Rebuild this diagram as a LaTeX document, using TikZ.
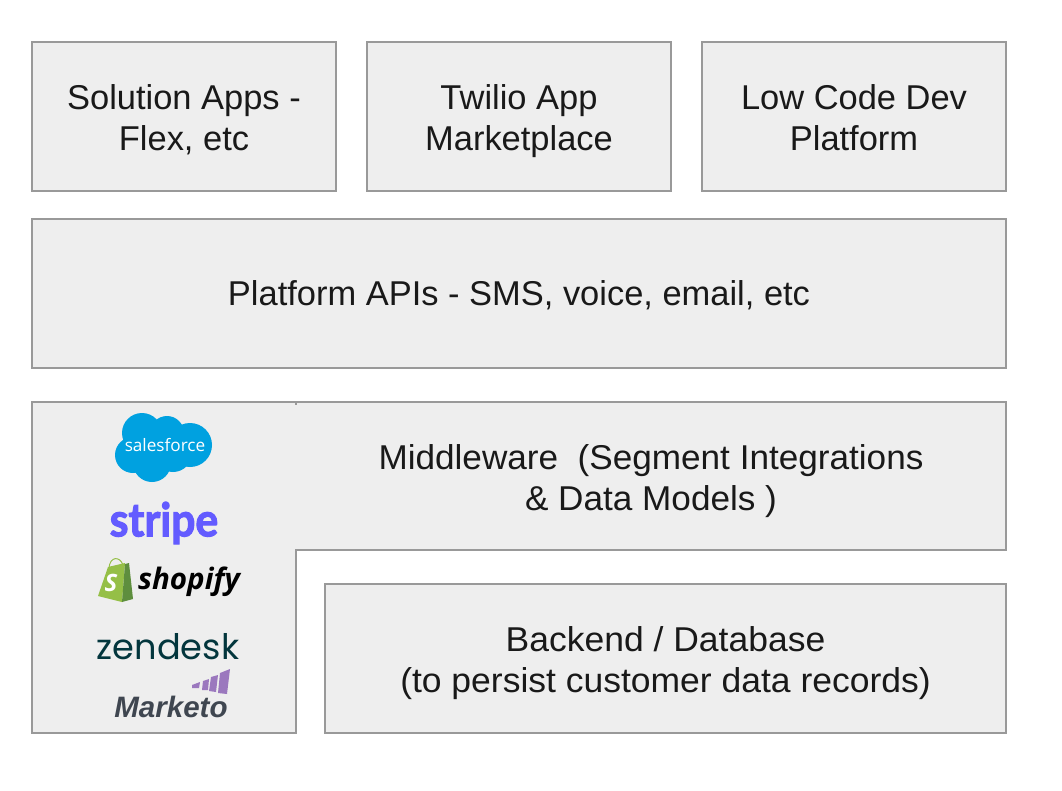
\documentclass[tikz,border=0pt]{standalone}
\usepackage{fontspec}
\setmainfont{Liberation Sans}
\newfontfamily\stripefont{Lato}[BoldFeatures={FakeBold=2.5}]
\newfontfamily\shopfont{Open Sans}
\newfontfamily\zenfont{Poppins}
\usepackage{xcolor}
\usetikzlibrary{positioning}
\definecolor{panelfill}{HTML}{EEEEEE}
\definecolor{panelline}{HTML}{999999}
\definecolor{sfblue}{HTML}{00A1E0}
\definecolor{stripeblue}{HTML}{635BFF}
\definecolor{shopgreen}{HTML}{95BF47}
\definecolor{shopdark}{HTML}{5E8E3E}
\definecolor{zengreen}{HTML}{03363D}
\definecolor{mktpurple}{HTML}{9B78BE}
\definecolor{mktdark}{HTML}{3F4650}
\tikzset{
    panel/.style={draw=panelline, fill=panelfill, line width=1.4pt},
    paneltext/.style={align=center, text=black!90, font=\fontsize{24.5}{29.2}\selectfont,
        yshift=-5pt, execute at begin node=\strut, execute at end node=\strut},
}

\begin{document}
\begin{tikzpicture}[x=0.025cm, y=-0.025cm]
    \useasboundingbox (0,0) rectangle (1062,790);

    % Top row
    \draw[panel] (32,42) rectangle (336,191) node[midway, paneltext] (solution) {Solution Apps -\\Flex, etc};
    \draw[panel] (367,42) rectangle (671,191) node[midway, paneltext] (market) {Twilio App\\Marketplace};
    \draw[panel] (702,42) rectangle (1006,191) node[midway, paneltext] (lowcode) {Low Code Dev\\Platform};

    % Platform
    \draw[panel] (32,219) rectangle (1006,368) node[midway, paneltext, yshift=2pt] (platform) {Platform APIs - SMS, voice, email, etc};

    % Middleware
    \draw[panel] (32,402) -- (1006,402) -- (1006,550) -- (296,550) -- (296,733) -- (32,733) -- cycle;
    \draw[panelline, line width=1.4pt] (296,401) -- (296,405);
    \node[paneltext, xscale=1.02, transform shape] (middleware) at (651,477) {Middleware\ \ (Segment Integrations\\\& Data Models )};

    % Backend
    \draw[panel] (325,584) rectangle (1006,733) node[midway, paneltext, xscale=1.03, transform shape] (backend) {Backend / Database\\(to persist customer data records)};

    % Salesforce
    \foreach \x/\y/\r in {142/433/20,167/433/17,190/445/22,133/455/18,152/463/19,173/453/19,160/445/20}
        \fill[sfblue] (\x,\y) circle[radius=\r];
    \node[text=white, font=\fontsize{12.2}{13}\selectfont\shopfont] (salesforce) at (165,445) {salesforce};

    % Stripe
    \node[text=stripeblue, xscale=0.92, transform shape, font=\fontsize{33}{33}\selectfont\stripefont\bfseries] (stripe) at (164,523) {stripe};

    % Shopify
    \fill[shopgreen] (108,567) -- (125,563) -- (122,602) -- (98,596) -- cycle;
    \fill[shopdark] (125,564) -- (129,563) -- (133,599) -- (122,602) -- cycle;
    \draw[shopgreen, line width=0.7pt] (109,568) .. controls (110,556) and (120,556) .. (123,565);
    \node[text=white, font=\fontsize{17}{17}\selectfont\shopfont\bfseries\itshape] (shopbag) at (111,583) {S};
    \node[text=black, font=\fontsize{21}{21}\selectfont\shopfont\bfseries\itshape] (shopify) at (189,582) {shopify};

    % Zendesk
    \node[text=zengreen, font=\fontsize{25}{25}\selectfont\zenfont] (zendesk) at (168,647) {zendesk};

    % Marketo
    \fill[mktpurple] (192,685) -- (200,682) -- (199,688) -- (192,688) -- cycle;
    \fill[mktpurple] (203,681) -- (209,679) -- (208,690) -- (202,690) -- cycle;
    \fill[mktpurple] (211,677) -- (218,675) -- (216,692) -- (209,691) -- cycle;
    \fill[mktpurple] (220,673) -- (230,669) -- (227,694) -- (218,693) -- cycle;
    \node[text=mktdark, font=\fontsize{21}{21}\selectfont\bfseries\itshape] (marketo) at (171,707) {Marketo};
\end{tikzpicture}
\end{document}
